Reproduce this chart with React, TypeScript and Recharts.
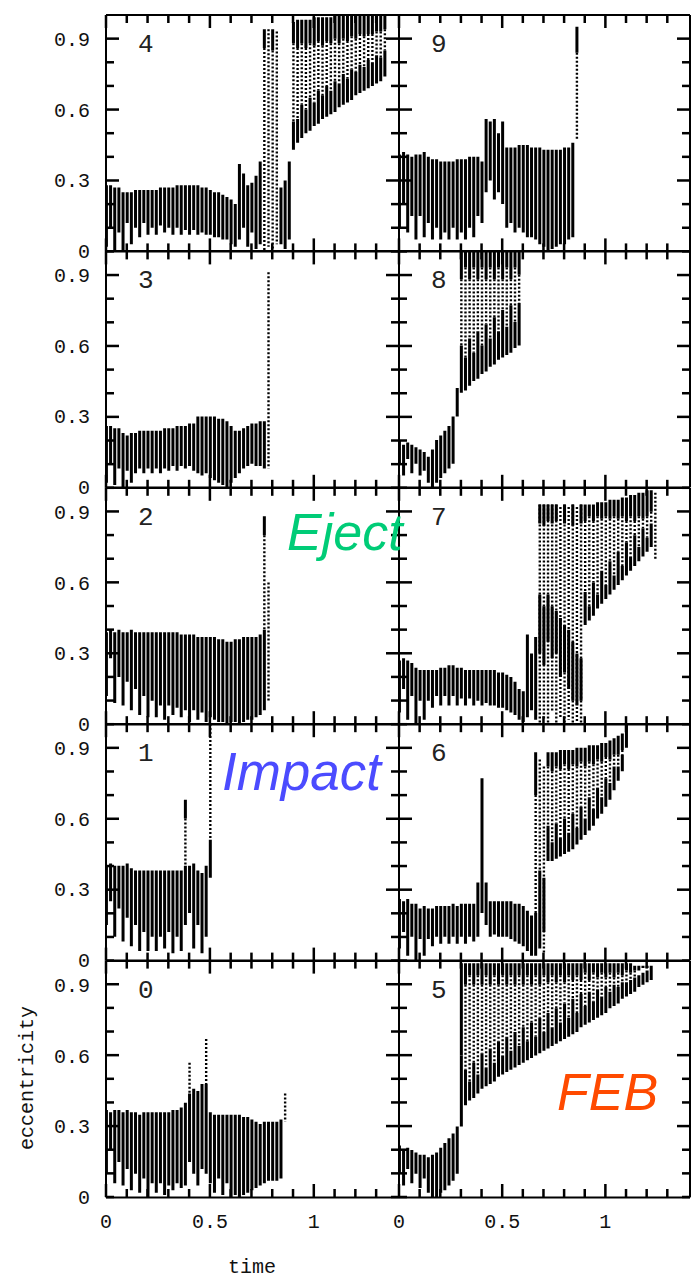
import React from 'react';
import { ComposedChart, Bar, XAxis, YAxis, ReferenceLine } from 'recharts';

// [time, low, high] ranges of eccentricity
type Row = [number, number, number];

const X_TICKS = [0, 0.1, 0.2, 0.3, 0.4, 0.5, 0.6, 0.7, 0.8, 0.9, 1, 1.1, 1.2, 1.3];
const X_LABELS = [0, 0.5, 1];
const Y_TICKS = [0, 0.1, 0.2, 0.3, 0.4, 0.5, 0.6, 0.7, 0.8, 0.9];
const Y_LABELS = [0, 0.3, 0.6, 0.9];
const X_MAX = 1.41;

// run 4
const P4_BODY: Row[] = [
  [0, 0.02, 0.28], [0.02, 0.1, 0.28], [0.04, 0, 0.27], [0.06, 0.08, 0.27], [0.08, 0, 0.25], [0.1, 0.12, 0.25],
  [0.12, 0.03, 0.25], [0.14, 0.1, 0.26], [0.16, 0.06, 0.26], [0.18, 0.12, 0.26], [0.2, 0.07, 0.26], [0.22, 0.1, 0.26],
  [0.24, 0.07, 0.26], [0.26, 0.11, 0.27], [0.28, 0.08, 0.27], [0.3, 0.1, 0.27], [0.32, 0.07, 0.27], [0.34, 0.1, 0.28],
  [0.36, 0.07, 0.28], [0.38, 0.09, 0.28], [0.4, 0.07, 0.28], [0.42, 0.09, 0.28], [0.44, 0.07, 0.28], [0.46, 0.08, 0.27],
  [0.48, 0.07, 0.27], [0.5, 0.07, 0.26], [0.52, 0.06, 0.25], [0.54, 0.06, 0.25], [0.56, 0.05, 0.24], [0.58, 0.05, 0.23],
  [0.6, 0.03, 0.22], [0.62, 0.02, 0.2], [0.64, 0.05, 0.37], [0.66, 0.1, 0.33], [0.68, 0.02, 0.28], [0.7, 0.08, 0.29],
  [0.72, 0.01, 0.32], [0.74, 0.03, 0.38], [0.84, 0.03, 0.27], [0.86, 0.01, 0.3], [0.88, 0.05, 0.38],
  [0.9, 0.43, 0.55], [0.92, 0.46, 0.56], [0.94, 0.48, 0.62], [0.96, 0.5, 0.6], [0.98, 0.51, 0.65], [1, 0.53, 0.63],
  [1.02, 0.54, 0.68], [1.04, 0.56, 0.66], [1.06, 0.57, 0.7], [1.08, 0.58, 0.68], [1.1, 0.59, 0.72], [1.12, 0.61, 0.71],
  [1.14, 0.62, 0.75], [1.16, 0.63, 0.73], [1.18, 0.64, 0.77], [1.2, 0.66, 0.76], [1.22, 0.67, 0.79], [1.24, 0.68, 0.78],
  [1.26, 0.69, 0.81], [1.28, 0.7, 0.8], [1.3, 0.71, 0.83], [1.32, 0.72, 0.82], [1.34, 0.74, 0.85],
];
const P4_CAP: Row[] = [
  [0.76, 0.86, 0.94], [0.8, 0.85, 0.94], [0.9, 0.88, 0.97], [0.92, 0.86, 0.98], [0.94, 0.88, 0.98], [0.96, 0.86, 0.98],
  [0.98, 0.88, 0.98], [1, 0.87, 0.99], [1.02, 0.89, 0.99], [1.04, 0.87, 0.99], [1.06, 0.89, 0.99], [1.08, 0.88, 0.99],
  [1.1, 0.9, 1], [1.12, 0.88, 1], [1.14, 0.9, 1], [1.16, 0.89, 1], [1.18, 0.91, 1], [1.2, 0.9, 1], [1.22, 0.92, 1],
  [1.24, 0.91, 1], [1.26, 0.92, 1], [1.28, 0.92, 1], [1.3, 0.93, 1], [1.32, 0.93, 1], [1.34, 0.94, 1],
];
const P4_DOTS: Row[] = [
  [0.76, 0, 0.86], [0.78, 0.02, 0.94], [0.8, 0, 0.85], [0.82, 0.03, 0.93],
  [0.9, 0.55, 0.88], [0.92, 0.56, 0.86], [0.94, 0.62, 0.88], [0.96, 0.6, 0.86], [0.98, 0.65, 0.88], [1, 0.63, 0.87],
  [1.02, 0.68, 0.89], [1.04, 0.66, 0.87], [1.06, 0.7, 0.89], [1.08, 0.68, 0.88], [1.1, 0.72, 0.9], [1.12, 0.71, 0.88],
  [1.14, 0.75, 0.9], [1.16, 0.73, 0.89], [1.18, 0.77, 0.91], [1.2, 0.76, 0.9], [1.22, 0.79, 0.92], [1.24, 0.78, 0.91],
  [1.26, 0.81, 0.92], [1.28, 0.8, 0.92], [1.3, 0.83, 0.93], [1.32, 0.82, 0.93], [1.34, 0.85, 0.94],
];

// run 3
const P3_BODY: Row[] = [
  [0, 0.02, 0.26], [0.02, 0.1, 0.26], [0.04, 0.01, 0.25], [0.06, 0.08, 0.25], [0.08, 0, 0.23], [0.1, 0.07, 0.22],
  [0.12, 0.02, 0.23], [0.14, 0.06, 0.23], [0.16, 0.08, 0.24], [0.18, 0.06, 0.24], [0.2, 0.08, 0.24], [0.22, 0.06, 0.24],
  [0.24, 0.08, 0.24], [0.26, 0.06, 0.24], [0.28, 0.08, 0.25], [0.3, 0.07, 0.25], [0.32, 0.09, 0.25], [0.34, 0.07, 0.26],
  [0.36, 0.09, 0.26], [0.38, 0.08, 0.26], [0.4, 0.09, 0.27], [0.42, 0.07, 0.27], [0.44, 0.06, 0.3], [0.46, 0.05, 0.3],
  [0.48, 0.06, 0.3], [0.5, 0.04, 0.3], [0.52, 0.03, 0.3], [0.54, 0.02, 0.29], [0.56, 0.01, 0.29], [0.58, 0, 0.28],
  [0.6, 0.02, 0.26], [0.62, 0.04, 0.24], [0.64, 0.06, 0.24], [0.66, 0.08, 0.25], [0.68, 0.09, 0.26], [0.7, 0.1, 0.27],
  [0.72, 0.09, 0.27], [0.74, 0.09, 0.28], [0.76, 0.08, 0.28],
];
const P3_CAP: Row[] = [];
const P3_DOTS: Row[] = [[0.78, 0.08, 0.91]];

// run 2
const P2_BODY: Row[] = [
  [0, 0.12, 0.39], [0.02, 0.28, 0.4], [0.04, 0.09, 0.39], [0.06, 0.2, 0.4], [0.08, 0.08, 0.39], [0.1, 0.18, 0.39],
  [0.12, 0.06, 0.4], [0.14, 0.15, 0.39], [0.16, 0.04, 0.39], [0.18, 0.12, 0.39], [0.2, 0.03, 0.39], [0.22, 0.1, 0.39],
  [0.24, 0.03, 0.39], [0.26, 0.08, 0.39], [0.28, 0.02, 0.39], [0.3, 0.08, 0.39], [0.32, 0.04, 0.39], [0.34, 0.07, 0.39],
  [0.36, 0.03, 0.38], [0.38, 0.06, 0.38], [0.4, 0.01, 0.38], [0.42, 0.06, 0.38], [0.44, 0.02, 0.37], [0.46, 0.05, 0.37],
  [0.48, 0.01, 0.37], [0.5, 0.03, 0.37], [0.52, 0.02, 0.37], [0.54, 0.01, 0.36], [0.56, 0.01, 0.36], [0.58, 0, 0.35],
  [0.6, 0.01, 0.35], [0.62, 0.01, 0.36], [0.64, 0, 0.36], [0.66, 0.01, 0.37], [0.68, 0.02, 0.37], [0.7, 0.02, 0.37],
  [0.72, 0.03, 0.37], [0.74, 0.04, 0.38], [0.76, 0.06, 0.4],
];
const P2_CAP: Row[] = [[0.76, 0.8, 0.88]];
const P2_DOTS: Row[] = [[0.76, 0.4, 0.8], [0.78, 0.1, 0.6]];

// run 1
const P1_BODY: Row[] = [
  [0, 0.15, 0.4], [0.02, 0.25, 0.41], [0.04, 0.1, 0.4], [0.06, 0.22, 0.4], [0.08, 0.08, 0.4], [0.1, 0.18, 0.41],
  [0.12, 0.06, 0.39], [0.14, 0.15, 0.38], [0.16, 0.04, 0.38], [0.18, 0.12, 0.38], [0.2, 0.04, 0.38], [0.22, 0.1, 0.38],
  [0.24, 0.04, 0.38], [0.26, 0.1, 0.38], [0.28, 0.05, 0.38], [0.3, 0.12, 0.38], [0.32, 0.03, 0.38], [0.34, 0.1, 0.38],
  [0.36, 0.04, 0.38], [0.38, 0.15, 0.4], [0.4, 0.2, 0.4], [0.42, 0.05, 0.41], [0.44, 0.15, 0.38], [0.46, 0.03, 0.37],
  [0.48, 0.1, 0.4], [0.5, 0.35, 0.51],
];
const P1_CAP: Row[] = [[0.38, 0.6, 0.68]];
const P1_DOTS: Row[] = [[0.38, 0.4, 0.6], [0.5, 0.51, 1]];

// run 0
const P0_BODY: Row[] = [
  [0, 0.1, 0.37], [0.02, 0.2, 0.36], [0.04, 0.06, 0.37], [0.06, 0.15, 0.37], [0.08, 0.05, 0.36], [0.1, 0.12, 0.37],
  [0.12, 0.03, 0.36], [0.14, 0.1, 0.36], [0.16, 0.02, 0.35], [0.18, 0.08, 0.36], [0.2, 0, 0.36], [0.22, 0.06, 0.36],
  [0.24, 0.02, 0.36], [0.26, 0.06, 0.36], [0.28, 0.01, 0.36], [0.3, 0.05, 0.36], [0.32, 0.03, 0.37], [0.34, 0.06, 0.37],
  [0.36, 0.04, 0.38], [0.38, 0.05, 0.4], [0.4, 0.15, 0.44], [0.42, 0.1, 0.46], [0.44, 0.05, 0.45], [0.46, 0.12, 0.48],
  [0.48, 0.1, 0.48], [0.5, 0.06, 0.36], [0.52, 0.02, 0.35], [0.54, 0.08, 0.35], [0.56, 0.01, 0.35], [0.58, 0.06, 0.35],
  [0.6, 0, 0.35], [0.62, 0.01, 0.35], [0.64, 0, 0.35], [0.66, 0.01, 0.34], [0.68, 0.02, 0.34], [0.7, 0.03, 0.33],
  [0.72, 0.04, 0.32], [0.74, 0.05, 0.31], [0.76, 0.06, 0.32], [0.78, 0.07, 0.32], [0.8, 0.07, 0.32], [0.82, 0.07, 0.32],
  [0.84, 0.08, 0.33],
];
const P0_CAP: Row[] = [];
const P0_DOTS: Row[] = [[0.4, 0.44, 0.57], [0.48, 0.48, 0.67], [0.86, 0.32, 0.44]];

// run 9
const P9_BODY: Row[] = [
  [0, 0.1, 0.41], [0.02, 0.2, 0.42], [0.04, 0.08, 0.41], [0.06, 0.15, 0.4], [0.08, 0.05, 0.41], [0.1, 0.15, 0.41],
  [0.12, 0.06, 0.42], [0.14, 0.12, 0.4], [0.16, 0.05, 0.39], [0.18, 0.1, 0.39], [0.2, 0.05, 0.38], [0.22, 0.08, 0.38],
  [0.24, 0.05, 0.38], [0.26, 0.1, 0.38], [0.28, 0.05, 0.39], [0.3, 0.08, 0.39], [0.32, 0.05, 0.39], [0.34, 0.1, 0.4],
  [0.36, 0.06, 0.4], [0.38, 0.15, 0.4], [0.4, 0.12, 0.38], [0.42, 0.25, 0.56], [0.44, 0.3, 0.55], [0.46, 0.22, 0.56],
  [0.48, 0.25, 0.5], [0.5, 0.2, 0.55], [0.52, 0.1, 0.44], [0.54, 0.12, 0.44], [0.56, 0.08, 0.44], [0.58, 0.1, 0.45],
  [0.6, 0.08, 0.45], [0.62, 0.06, 0.45], [0.64, 0.06, 0.44], [0.66, 0.05, 0.44], [0.68, 0.03, 0.44], [0.7, 0.02, 0.43],
  [0.72, 0, 0.43], [0.74, 0.01, 0.43], [0.76, 0.02, 0.43], [0.78, 0.03, 0.43], [0.8, 0.03, 0.44], [0.82, 0.05, 0.44],
  [0.84, 0.06, 0.46],
];
const P9_CAP: Row[] = [[0.86, 0.84, 0.95]];
const P9_DOTS: Row[] = [[0.86, 0.47, 0.84]];

// run 8
const P8_BODY: Row[] = [
  [0, 0.1, 0.2], [0.02, 0.05, 0.18], [0.04, 0.12, 0.19], [0.06, 0.06, 0.18], [0.08, 0.1, 0.17], [0.1, 0.05, 0.16],
  [0.12, 0.07, 0.15], [0.14, 0.02, 0.13], [0.16, 0, 0.16], [0.18, 0.02, 0.2], [0.2, 0.04, 0.22], [0.22, 0.06, 0.24],
  [0.24, 0.08, 0.26], [0.26, 0.1, 0.3], [0.28, 0.3, 0.42],
  [0.3, 0.4, 0.6], [0.32, 0.41, 0.55], [0.34, 0.43, 0.63], [0.36, 0.45, 0.57], [0.38, 0.46, 0.66], [0.4, 0.48, 0.6],
  [0.42, 0.49, 0.69], [0.44, 0.51, 0.63], [0.46, 0.52, 0.72], [0.48, 0.54, 0.66], [0.5, 0.55, 0.75], [0.52, 0.56, 0.68],
  [0.54, 0.57, 0.77], [0.56, 0.59, 0.7], [0.58, 0.6, 0.78],
];
const P8_CAP: Row[] = [
  [0.3, 0.88, 1], [0.32, 0.93, 1], [0.34, 0.88, 1], [0.36, 0.93, 1], [0.38, 0.88, 1], [0.4, 0.93, 1], [0.42, 0.88, 1],
  [0.44, 0.93, 1], [0.46, 0.88, 1], [0.48, 0.93, 1], [0.5, 0.88, 1], [0.52, 0.93, 1], [0.54, 0.88, 1], [0.56, 0.93, 1],
  [0.58, 0.9, 1],
];
const P8_DOTS: Row[] = [
  [0.3, 0.6, 0.88], [0.32, 0.55, 0.93], [0.34, 0.63, 0.88], [0.36, 0.57, 0.93], [0.38, 0.66, 0.88], [0.4, 0.6, 0.93],
  [0.42, 0.69, 0.88], [0.44, 0.63, 0.93], [0.46, 0.72, 0.88], [0.48, 0.66, 0.93], [0.5, 0.75, 0.88], [0.52, 0.68, 0.93],
  [0.54, 0.77, 0.88], [0.56, 0.7, 0.93], [0.58, 0.78, 0.9],
];

// run 7
const P7_BODY: Row[] = [
  [0, 0.05, 0.27], [0.02, 0.15, 0.28], [0.04, 0.02, 0.27], [0.06, 0.12, 0.26], [0.08, 0, 0.24], [0.1, 0.1, 0.23],
  [0.12, 0.02, 0.23], [0.14, 0.1, 0.23], [0.16, 0.07, 0.23], [0.18, 0.12, 0.23], [0.2, 0.08, 0.24], [0.22, 0.12, 0.24],
  [0.24, 0.08, 0.25], [0.26, 0.12, 0.25], [0.28, 0.08, 0.24], [0.3, 0.11, 0.24], [0.32, 0.08, 0.23], [0.34, 0.11, 0.23],
  [0.36, 0.08, 0.23], [0.38, 0.1, 0.23], [0.4, 0.08, 0.23], [0.42, 0.09, 0.23], [0.44, 0.08, 0.23], [0.46, 0.08, 0.23],
  [0.48, 0.07, 0.22], [0.5, 0.07, 0.22], [0.52, 0.06, 0.21], [0.54, 0.05, 0.2], [0.56, 0.04, 0.18], [0.58, 0.02, 0.15],
  [0.6, 0.01, 0.14], [0.62, 0.03, 0.38], [0.64, 0.06, 0.3], [0.66, 0.02, 0.37],
  [0.68, 0.3, 0.55], [0.7, 0.25, 0.5], [0.72, 0.35, 0.55], [0.74, 0.28, 0.5], [0.76, 0.3, 0.48], [0.78, 0.2, 0.45],
  [0.8, 0.22, 0.42], [0.82, 0.15, 0.4], [0.84, 0.1, 0.35], [0.86, 0.08, 0.3], [0.88, 0.1, 0.28],
  [0.9, 0.42, 0.56], [0.92, 0.44, 0.5], [0.94, 0.46, 0.6], [0.96, 0.49, 0.55], [0.98, 0.51, 0.65], [1, 0.53, 0.59],
  [1.02, 0.55, 0.69], [1.04, 0.57, 0.63], [1.06, 0.59, 0.73], [1.08, 0.61, 0.67], [1.1, 0.63, 0.77], [1.12, 0.65, 0.71],
  [1.14, 0.67, 0.8], [1.16, 0.69, 0.75], [1.18, 0.71, 0.83], [1.2, 0.73, 0.79], [1.22, 0.75, 0.85],
];
const P7_CAP: Row[] = [
  [0.68, 0.85, 0.93], [0.7, 0.84, 0.93], [0.72, 0.86, 0.93], [0.74, 0.85, 0.93], [0.76, 0.86, 0.93], [0.8, 0.85, 0.93],
  [0.84, 0.84, 0.93], [0.88, 0.85, 0.93],
  [0.9, 0.86, 0.93], [0.92, 0.88, 0.93], [0.94, 0.86, 0.93], [0.96, 0.88, 0.94], [0.98, 0.87, 0.94], [1, 0.88, 0.94],
  [1.02, 0.87, 0.95], [1.04, 0.88, 0.95], [1.06, 0.87, 0.95], [1.08, 0.88, 0.96], [1.1, 0.86, 0.96], [1.12, 0.88, 0.97],
  [1.14, 0.86, 0.97], [1.16, 0.88, 0.98], [1.18, 0.87, 0.98], [1.2, 0.88, 0.99], [1.22, 0.9, 0.99],
];
const P7_DOTS: Row[] = [
  [0.68, 0, 0.93], [0.7, 0.02, 0.93], [0.72, 0, 0.93], [0.74, 0.05, 0.93], [0.76, 0, 0.93], [0.78, 0.03, 0.92],
  [0.8, 0, 0.93], [0.82, 0.02, 0.92], [0.84, 0, 0.93], [0.86, 0, 0.92], [0.88, 0, 0.93],
  [0.9, 0.56, 0.86], [0.92, 0.5, 0.88], [0.94, 0.6, 0.86], [0.96, 0.55, 0.88], [0.98, 0.65, 0.87], [1, 0.59, 0.88],
  [1.02, 0.69, 0.87], [1.04, 0.63, 0.88], [1.06, 0.73, 0.87], [1.08, 0.67, 0.88], [1.1, 0.77, 0.86], [1.12, 0.71, 0.88],
  [1.14, 0.8, 0.86], [1.16, 0.75, 0.88], [1.18, 0.83, 0.87], [1.2, 0.79, 0.88], [1.22, 0.85, 0.9], [1.24, 0.7, 0.98],
];

// run 6
const P6_BODY: Row[] = [
  [0, 0.05, 0.26], [0.02, 0.12, 0.25], [0.04, 0.02, 0.26], [0.06, 0.1, 0.24], [0.08, 0, 0.24], [0.1, 0.09, 0.22],
  [0.12, 0.02, 0.23], [0.14, 0.09, 0.22], [0.16, 0.06, 0.22], [0.18, 0.1, 0.23], [0.2, 0.07, 0.23], [0.22, 0.1, 0.23],
  [0.24, 0.07, 0.23], [0.26, 0.1, 0.24], [0.28, 0.07, 0.23], [0.3, 0.1, 0.24], [0.32, 0.07, 0.24], [0.34, 0.1, 0.24],
  [0.36, 0.08, 0.24], [0.38, 0.1, 0.33], [0.4, 0.2, 0.77], [0.42, 0.15, 0.33], [0.44, 0.1, 0.25], [0.46, 0.11, 0.25],
  [0.48, 0.1, 0.25], [0.5, 0.1, 0.25], [0.52, 0.1, 0.25], [0.54, 0.09, 0.25], [0.56, 0.08, 0.24], [0.58, 0.07, 0.24],
  [0.6, 0.06, 0.23], [0.62, 0.04, 0.21], [0.64, 0.02, 0.19], [0.66, 0.02, 0.2], [0.68, 0.05, 0.38], [0.7, 0.12, 0.35],
  [0.72, 0.42, 0.57], [0.74, 0.42, 0.5], [0.76, 0.43, 0.58], [0.78, 0.44, 0.52], [0.8, 0.45, 0.6], [0.82, 0.46, 0.54],
  [0.84, 0.47, 0.62], [0.86, 0.49, 0.56], [0.88, 0.51, 0.65], [0.9, 0.53, 0.6], [0.92, 0.55, 0.69], [0.94, 0.57, 0.64],
  [0.96, 0.6, 0.73], [0.98, 0.62, 0.69], [1, 0.65, 0.77], [1.02, 0.68, 0.75], [1.04, 0.72, 0.82], [1.06, 0.76, 0.82],
  [1.08, 0.8, 0.87],
];
const P6_CAP: Row[] = [
  [0.66, 0.7, 0.88], [0.72, 0.82, 0.88], [0.74, 0.8, 0.88], [0.76, 0.82, 0.88], [0.78, 0.81, 0.89], [0.8, 0.83, 0.89],
  [0.82, 0.81, 0.89], [0.84, 0.83, 0.89], [0.86, 0.82, 0.9], [0.88, 0.84, 0.9], [0.9, 0.82, 0.9], [0.92, 0.84, 0.91],
  [0.94, 0.83, 0.91], [0.96, 0.85, 0.91], [0.98, 0.84, 0.92], [1, 0.86, 0.92], [1.02, 0.85, 0.93], [1.04, 0.87, 0.94],
  [1.06, 0.87, 0.95], [1.08, 0.89, 0.96], [1.1, 0.9, 1],
];
const P6_DOTS: Row[] = [
  [0.66, 0.2, 0.7], [0.68, 0.38, 0.85], [0.7, 0.03, 0.82],
  [0.72, 0.57, 0.82], [0.74, 0.5, 0.8], [0.76, 0.58, 0.82], [0.78, 0.52, 0.81], [0.8, 0.6, 0.83], [0.82, 0.54, 0.81],
  [0.84, 0.62, 0.83], [0.86, 0.56, 0.82], [0.88, 0.65, 0.84], [0.9, 0.6, 0.82], [0.92, 0.69, 0.84], [0.94, 0.64, 0.83],
  [0.96, 0.73, 0.85], [0.98, 0.69, 0.84], [1, 0.77, 0.86], [1.02, 0.75, 0.85], [1.04, 0.82, 0.87], [1.06, 0.82, 0.87],
  [1.08, 0.87, 0.89],
];

// run 5
const P5_BODY: Row[] = [
  [0, 0.1, 0.22], [0.02, 0.05, 0.2], [0.04, 0.12, 0.21], [0.06, 0.06, 0.2], [0.08, 0.1, 0.19], [0.1, 0.04, 0.18],
  [0.12, 0.08, 0.18], [0.14, 0.02, 0.17], [0.16, 0, 0.18], [0.18, 0, 0.19], [0.2, 0.02, 0.21], [0.22, 0.03, 0.23],
  [0.24, 0.05, 0.25], [0.26, 0.07, 0.27], [0.28, 0.1, 0.3], [0.3, 0.3, 0.6],
  [0.32, 0.39, 0.54], [0.34, 0.41, 0.49], [0.36, 0.42, 0.57], [0.38, 0.44, 0.52], [0.4, 0.46, 0.61], [0.42, 0.47, 0.55],
  [0.44, 0.48, 0.63], [0.46, 0.49, 0.57], [0.48, 0.51, 0.66], [0.5, 0.52, 0.6], [0.52, 0.53, 0.68], [0.54, 0.54, 0.62],
  [0.56, 0.55, 0.7], [0.58, 0.56, 0.64], [0.6, 0.57, 0.72], [0.62, 0.58, 0.66], [0.64, 0.59, 0.74], [0.66, 0.6, 0.68],
  [0.68, 0.61, 0.76], [0.7, 0.62, 0.7], [0.72, 0.63, 0.78], [0.74, 0.64, 0.72], [0.76, 0.65, 0.8], [0.78, 0.66, 0.74],
  [0.8, 0.67, 0.82], [0.82, 0.68, 0.76], [0.84, 0.69, 0.84], [0.86, 0.7, 0.78], [0.88, 0.72, 0.86], [0.9, 0.73, 0.81],
  [0.92, 0.74, 0.87], [0.94, 0.75, 0.83], [0.96, 0.76, 0.88], [0.98, 0.77, 0.85], [1, 0.78, 0.89], [1.02, 0.8, 0.87],
  [1.04, 0.81, 0.9], [1.06, 0.82, 0.89], [1.08, 0.84, 0.91], [1.1, 0.85, 0.91], [1.12, 0.86, 0.92], [1.14, 0.87, 0.93],
  [1.16, 0.89, 0.94], [1.18, 0.9, 0.95], [1.2, 0.91, 0.96], [1.22, 0.92, 0.97],
];
const P5_CAP: Row[] = [
  [0.3, 0.6, 0.99], [0.32, 0.9, 0.99], [0.34, 0.94, 0.99], [0.36, 0.9, 0.99], [0.38, 0.94, 0.99], [0.4, 0.9, 0.99],
  [0.42, 0.94, 0.99], [0.44, 0.9, 0.99], [0.46, 0.94, 0.99], [0.48, 0.9, 0.99], [0.5, 0.94, 0.99], [0.52, 0.9, 0.99],
  [0.54, 0.94, 0.99], [0.56, 0.9, 0.99], [0.58, 0.94, 0.99], [0.6, 0.9, 0.99], [0.62, 0.94, 0.99], [0.64, 0.9, 0.99],
  [0.66, 0.94, 0.99], [0.68, 0.9, 0.99], [0.7, 0.94, 0.99], [0.72, 0.91, 0.99], [0.74, 0.94, 0.99], [0.76, 0.91, 0.99],
  [0.78, 0.94, 0.99], [0.8, 0.91, 0.99], [0.82, 0.94, 0.99], [0.84, 0.92, 0.99], [0.86, 0.94, 0.99], [0.88, 0.92, 0.99],
  [0.9, 0.95, 0.99], [0.92, 0.92, 0.99], [0.94, 0.95, 0.99], [0.96, 0.93, 0.99], [0.98, 0.95, 0.99], [1, 0.93, 0.99],
  [1.02, 0.95, 0.99], [1.04, 0.93, 0.99], [1.06, 0.95, 0.99], [1.08, 0.94, 0.99], [1.1, 0.96, 0.99], [1.12, 0.95, 0.99],
  [1.14, 0.96, 0.98], [1.16, 0.96, 0.98], [1.18, 0.97, 0.98], [1.2, 0.97, 0.98], [1.22, 0.97, 0.98],
];
const P5_DOTS: Row[] = [
  [0.32, 0.54, 0.9], [0.34, 0.49, 0.94], [0.36, 0.57, 0.9], [0.38, 0.52, 0.94], [0.4, 0.61, 0.9], [0.42, 0.55, 0.94],
  [0.44, 0.63, 0.9], [0.46, 0.57, 0.94], [0.48, 0.66, 0.9], [0.5, 0.6, 0.94], [0.52, 0.68, 0.9], [0.54, 0.62, 0.94],
  [0.56, 0.7, 0.9], [0.58, 0.64, 0.94], [0.6, 0.72, 0.9], [0.62, 0.66, 0.94], [0.64, 0.74, 0.9], [0.66, 0.68, 0.94],
  [0.68, 0.76, 0.9], [0.7, 0.7, 0.94], [0.72, 0.78, 0.91], [0.74, 0.72, 0.94], [0.76, 0.8, 0.91], [0.78, 0.74, 0.94],
  [0.8, 0.82, 0.91], [0.82, 0.76, 0.94], [0.84, 0.84, 0.92], [0.86, 0.78, 0.94], [0.88, 0.86, 0.92], [0.9, 0.81, 0.95],
  [0.92, 0.87, 0.92], [0.94, 0.83, 0.95], [0.96, 0.88, 0.93], [0.98, 0.85, 0.95], [1, 0.89, 0.93], [1.02, 0.87, 0.95],
  [1.04, 0.9, 0.93], [1.06, 0.89, 0.95], [1.08, 0.91, 0.94], [1.1, 0.91, 0.96], [1.12, 0.92, 0.95], [1.14, 0.93, 0.96],
];

const PANELS = [
  { num: '4', col: 0, row: 0, body: P4_BODY, cap: P4_CAP, dots: P4_DOTS },
  { num: '3', col: 0, row: 1, body: P3_BODY, cap: P3_CAP, dots: P3_DOTS },
  { num: '2', col: 0, row: 2, body: P2_BODY, cap: P2_CAP, dots: P2_DOTS },
  { num: '1', col: 0, row: 3, body: P1_BODY, cap: P1_CAP, dots: P1_DOTS },
  { num: '0', col: 0, row: 4, body: P0_BODY, cap: P0_CAP, dots: P0_DOTS },
  { num: '9', col: 1, row: 0, body: P9_BODY, cap: P9_CAP, dots: P9_DOTS },
  { num: '8', col: 1, row: 1, body: P8_BODY, cap: P8_CAP, dots: P8_DOTS },
  { num: '7', col: 1, row: 2, body: P7_BODY, cap: P7_CAP, dots: P7_DOTS },
  { num: '6', col: 1, row: 3, body: P6_BODY, cap: P6_CAP, dots: P6_DOTS },
  { num: '5', col: 1, row: 4, body: P5_BODY, cap: P5_CAP, dots: P5_DOTS },
];

const MONO = '"Liberation Mono", "DejaVu Sans Mono", monospace';
const SANS = '"Liberation Sans", Arial, sans-serif';
const INK = '#111';
const COL_X = [106, 399];
const COL_W = [293, 291];
const TOP = 15;
const PANEL_H = 236.4;
const AX = 40; // room reserved for the axes inside each chart
const STROKE = 2;
const TICK_W = 2.5;

function buildRows(body: Row[], cap: Row[], dots: Row[]) {
  const map = new Map<number, any>();
  const put = (list: Row[], key: string) =>
    list.forEach(([t, lo, hi]) => {
      const row = map.get(t) ?? { t };
      row[key] = [lo, hi];
      map.set(t, row);
    });
  put(body, 'body');
  put(cap, 'cap');
  put(dots, 'dots');
  return [...map.values()].sort((a, b) => a.t - b.t);
}

const DotsShape = (props: any) => {
  const { x, y, width, height } = props;
  if (![x, y, width, height].every((v) => Number.isFinite(v)) || height === 0) return <g />;
  const cx = x + width / 2;
  const y0 = Math.min(y, y + height);
  const y1 = Math.max(y, y + height);
  return <line x1={cx} x2={cx} y1={y0} y2={y1} stroke="#000" strokeWidth={2.4} strokeDasharray="2 2" />;
};

function XLabel({ x, y, payload, show }: any) {
  if (!show || !X_LABELS.includes(payload.value)) return <g />;
  return (
    <text x={x} y={y + 31} textAnchor="middle" fontFamily={MONO} fontSize={20} fill={INK}>
      {String(payload.value)}
    </text>
  );
}

function YLabel({ x, y, payload, show }: any) {
  if (!show || !Y_LABELS.includes(payload.value)) return <g />;
  return (
    <text x={x - 16} y={y + 7} textAnchor="end" fontFamily={MONO} fontSize={20} fill={INK}>
      {String(payload.value)}
    </text>
  );
}

// inward tick marks for one panel frame, placed on the same linear mapping as the chart axes
function FrameTicks({ col, row }: { col: number; row: number }) {
  const left = COL_X[col];
  const w = COL_W[col];
  const top = TOP + row * PANEL_H;
  const bottom = top + PANEL_H;
  const px = (t: number) => left + (t / X_MAX) * w;
  const py = (v: number) => top + (1 - v) * PANEL_H;
  const marks: React.ReactNode[] = [];
  X_TICKS.forEach((t, i) => {
    const len = X_LABELS.includes(t) ? 13 : 8;
    const x = px(t) - TICK_W / 2;
    marks.push(<rect key={`xb${i}`} x={x} y={bottom - len} width={TICK_W} height={len} fill="#000" />);
    marks.push(<rect key={`xt${i}`} x={x} y={top} width={TICK_W} height={len} fill="#000" />);
  });
  Y_TICKS.forEach((v, i) => {
    const len = Y_LABELS.includes(v) && v !== 0 ? 13 : 8;
    const y = py(v) - TICK_W / 2;
    marks.push(<rect key={`yl${i}`} x={left} y={y} width={len} height={TICK_W} fill="#000" />);
    marks.push(<rect key={`yr${i}`} x={left + w - len} y={y} width={len} height={TICK_W} fill="#000" />);
  });
  return <g>{marks}</g>;
}

function Panel({ p }: { p: (typeof PANELS)[number] }) {
  const rows = buildRows(p.body, p.cap, p.dots);
  const width = COL_W[p.col];
  const h = PANEL_H;

  return (
    <div style={{ position: 'absolute', left: COL_X[p.col] - AX, top: TOP + p.row * PANEL_H }}>
      <ComposedChart
        width={width + AX}
        height={h + AX}
        data={rows}
        margin={{ top: 0, right: 0, bottom: 0, left: 0 }}
        barGap={-3}
      >
        <XAxis
          dataKey="t"
          type="number"
          domain={[0, X_MAX]}
          ticks={X_TICKS}
          interval={0}
          height={AX}
          tickSize={0}
          tickMargin={0}
          tickLine={false}
          tick={(props: any) => <XLabel {...props} show={p.row === 4} />}
          axisLine={{ stroke: '#000', strokeWidth: STROKE }}
          allowDataOverflow
        />
        <YAxis
          type="number"
          domain={[0, 1]}
          ticks={Y_TICKS}
          interval={0}
          width={AX}
          tickSize={0}
          tickMargin={0}
          tickLine={false}
          tick={(props: any) => <YLabel {...props} show={p.col === 0} />}
          axisLine={{ stroke: '#000', strokeWidth: STROKE }}
          allowDataOverflow
        />
        <ReferenceLine y={1} stroke="#000" strokeWidth={STROKE} />
        <ReferenceLine x={X_MAX} stroke="#000" strokeWidth={STROKE} />
        <Bar dataKey="body" fill="#000" barSize={3} isAnimationActive={false} />
        <Bar dataKey="cap" fill="#000" barSize={3} isAnimationActive={false} />
        <Bar dataKey="dots" barSize={3} shape={DotsShape} isAnimationActive={false} />
      </ComposedChart>
    </div>
  );
}

export default function App() {
  return (
    <div style={{ position: 'absolute', left: 0, top: 0, width: 691, height: 1278, background: '#fff' }}>
      <style>{'.recharts-surface{overflow:visible}'}</style>
      {PANELS.map((p) => (
        <Panel key={p.num} p={p} />
      ))}
      <svg width={691} height={1278} style={{ position: 'absolute', left: 0, top: 0, pointerEvents: 'none' }}>
        {PANELS.map((p) => (
          <FrameTicks key={`ticks${p.num}`} col={p.col} row={p.row} />
        ))}
        {PANELS.map((p) => (
          <text
            key={p.num}
            x={COL_X[p.col] + 32}
            y={TOP + p.row * PANEL_H + 37}
            fontFamily={MONO}
            fontSize={26}
            fill="#222"
          >
            {p.num}
          </text>
        ))}
        <text x={287} y={550} fontFamily={SANS} fontStyle="italic" fontSize={52} fill="#00cc77">
          Eject
        </text>
        <text x={222} y={790} fontFamily={SANS} fontStyle="italic" fontSize={53} fill="#4b4bff">
          Impact
        </text>
        <text x={557} y={1110} fontFamily={SANS} fontStyle="italic" fontSize={52} fill="#ff4a00">
          FEB
        </text>
        <text x={252} y={1273} textAnchor="middle" fontFamily={MONO} fontSize={20} fill={INK}>
          time
        </text>
        <text
          transform="translate(33,1078) rotate(-90)"
          textAnchor="middle"
          fontFamily={MONO}
          fontSize={20}
          fill={INK}
        >
          eccentricity
        </text>
      </svg>
    </div>
  );
}
